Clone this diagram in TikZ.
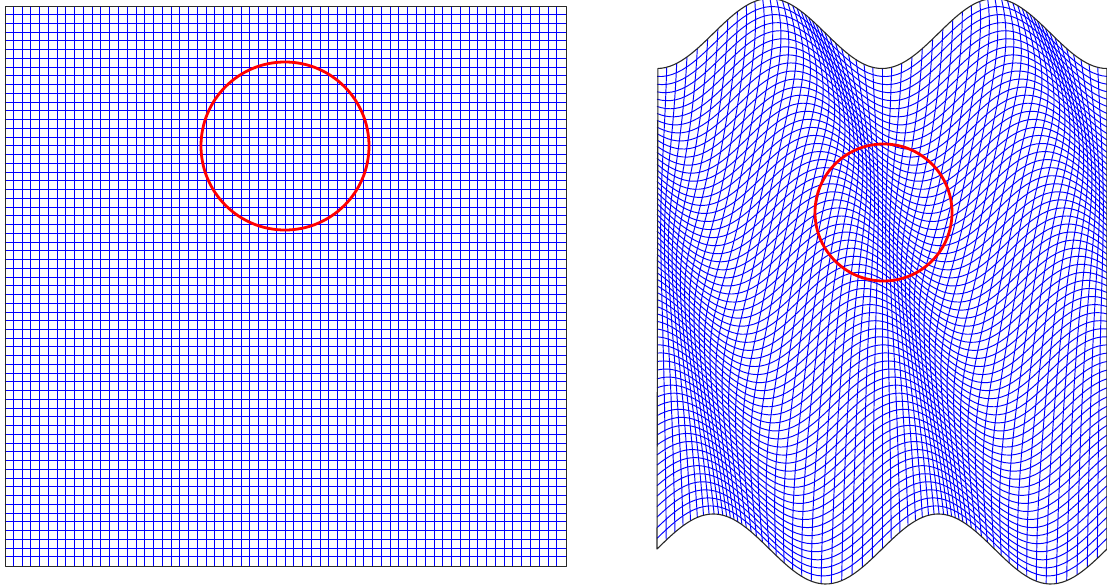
\documentclass[tikz,border=0pt]{standalone}
\usetikzlibrary{calc}
\tikzset{
  meshline/.style={draw={rgb,255:red,0;green,0;blue,255}, line width=0.95pt},
  edgeline/.style={draw={rgb,255:red,40;green,40;blue,40}, line width=1.1pt, line join=round},
  ring/.style={draw=red, line width=2.8pt},
  declare function={
    psx(\t) = 43 + 124*\t + 150*\t*\t;
    mx(\s,\t) = \s + 0.0378*(sin(720*\s+psx(\t)) - sin(psx(\t)));
    mX(\s,\t) = 657 + 450*mx(\s,\t);
    mY(\s,\t) = 549 - 515.5*\t - 35*sin(720*mx(\s,\t) + 270*\t);
  }
}
\begin{document}
\begin{tikzpicture}[x=1pt,y=-1pt]
\useasboundingbox (0,0) rectangle (1107,587);
% ---- left: uniform mesh ----
\foreach \i in {1,...,63}{
  \draw[meshline] ({4.5+\i*8.765625},6) -- ({4.5+\i*8.765625},565.5);
  \draw[meshline] (4.5,{6+\i*8.7421875}) -- (565.5,{6+\i*8.7421875});
}
\node[draw=none, inner sep=0pt, minimum width=561pt, minimum height=559.5pt, edgeline, anchor=north west] (leftbox) at (4.5,6) {};
\node[ring, circle, inner sep=0pt, minimum size=168pt] (leftcircle) at (285,146) {};
% ---- right: deformed mesh ----
\foreach \i in {1,...,63}{
  \draw[meshline] plot[domain=0:1, samples=61, variable=\t] ({mX(\i/64,\t)},{mY(\i/64,\t)});
  \draw[meshline] plot[domain=0:1, samples=121, variable=\s] ({mX(\s,\i/64)},{mY(\s,\i/64)});
}
\draw[edgeline] plot[domain=0:1, samples=161, variable=\s] ({mX(\s,0)},{mY(\s,0)})
  -- plot[domain=0:1, samples=41, variable=\t] ({mX(1,\t)},{mY(1,\t)})
  -- plot[domain=1:0, samples=161, variable=\s] ({mX(\s,1)},{mY(\s,1)})
  -- cycle;
\node[ring, circle, inner sep=0pt, minimum size=137pt] (rightcircle) at (883.5,212.5) {};
\end{tikzpicture}
\end{document}
